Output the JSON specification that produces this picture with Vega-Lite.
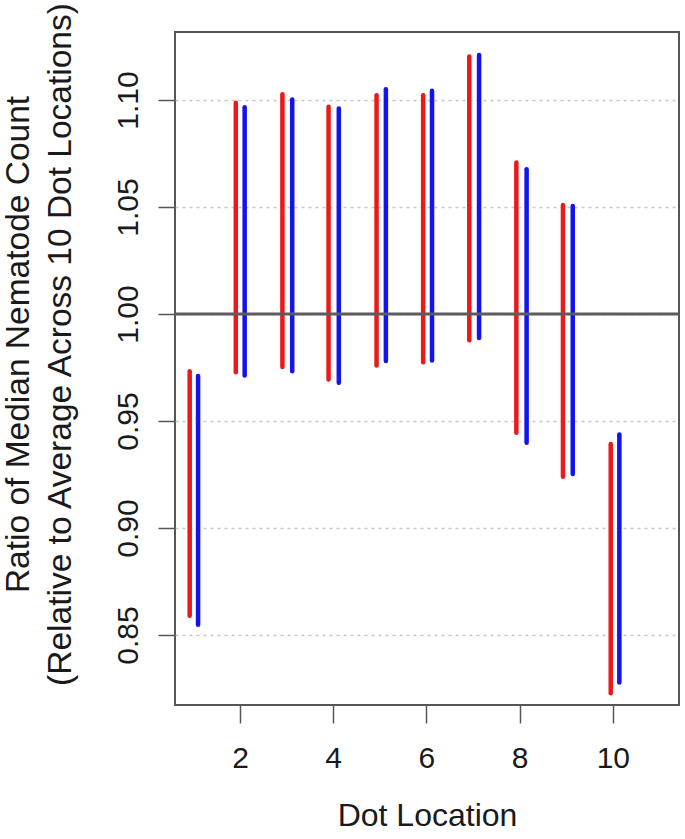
{
  "$schema": "https://vega.github.io/schema/vega-lite/v6.json",
  "width": 504,
  "height": 673,
  "autosize": "none",
  "padding": {"left": 175, "top": 32, "right": 6, "bottom": 134},
  "background": "white",
  "config": {
    "view": {"stroke": "#555555", "strokeWidth": 2},
    "font": "Liberation Sans",
    "axis": {"labelFont": "Liberation Sans", "titleFont": "Liberation Sans", "labelColor": "#1a1a1a", "titleColor": "#1a1a1a", "titleFontWeight": "normal", "domain": false, "tickColor": "#555555", "tickWidth": 1.5}
  },
  "layer": [
    {
      "data": {
        "values": [
          {"location": 1, "group": "red", "x": 0.92, "lo": 0.859, "hi": 0.9733},
          {"location": 1, "group": "blue", "x": 1.10, "lo": 0.8548, "hi": 0.971},
          {"location": 2, "group": "red", "x": 1.91, "lo": 0.9728, "hi": 1.0987},
          {"location": 2, "group": "blue", "x": 2.10, "lo": 0.9713, "hi": 1.0966},
          {"location": 3, "group": "red", "x": 2.91, "lo": 0.9752, "hi": 1.1027},
          {"location": 3, "group": "blue", "x": 3.12, "lo": 0.9733, "hi": 1.1003},
          {"location": 4, "group": "red", "x": 3.90, "lo": 0.9694, "hi": 1.0969},
          {"location": 4, "group": "blue", "x": 4.12, "lo": 0.9679, "hi": 1.0961},
          {"location": 5, "group": "red", "x": 4.93, "lo": 0.976, "hi": 1.1023},
          {"location": 5, "group": "blue", "x": 5.13, "lo": 0.978, "hi": 1.105},
          {"location": 6, "group": "red", "x": 5.93, "lo": 0.9775, "hi": 1.1023},
          {"location": 6, "group": "blue", "x": 6.12, "lo": 0.9783, "hi": 1.1044},
          {"location": 7, "group": "red", "x": 6.92, "lo": 0.9877, "hi": 1.1203},
          {"location": 7, "group": "blue", "x": 7.13, "lo": 0.9888, "hi": 1.1211},
          {"location": 8, "group": "red", "x": 7.93, "lo": 0.9445, "hi": 1.0708},
          {"location": 8, "group": "blue", "x": 8.15, "lo": 0.9398, "hi": 1.0677},
          {"location": 9, "group": "red", "x": 8.93, "lo": 0.924, "hi": 1.0509},
          {"location": 9, "group": "blue", "x": 9.14, "lo": 0.9253, "hi": 1.0505},
          {"location": 10, "group": "red", "x": 9.955, "lo": 0.8228, "hi": 0.9393},
          {"location": 10, "group": "blue", "x": 10.14, "lo": 0.8278, "hi": 0.9437}
        ]
      },
      "mark": {"type": "rule", "strokeWidth": 4.5, "strokeCap": "round"},
      "encoding": {
        "x": {
          "field": "x", "type": "quantitative",
          "scale": {"domain": [0.605, 11.42], "nice": false, "zero": false},
          "axis": {
            "values": [2, 4, 6, 8, 10], "grid": false, "tickSize": 18,
            "labelFontSize": 30, "labelBaseline": "alphabetic", "labelPadding": 44,
            "title": "Dot Location", "titleFontSize": 32, "titleBaseline": "alphabetic",
            "titleX": 252, "titleY": 120, "titleAlign": "center"
          }
        },
        "y": {
          "field": "lo", "type": "quantitative",
          "scale": {"domain": [0.8173, 1.1318], "nice": false, "zero": false},
          "axis": {
            "values": [0.85, 0.9, 0.95, 1.0, 1.05, 1.1], "format": ".2f",
            "grid": true, "gridDash": [3, 4], "gridColor": "#c8c8c8", "gridWidth": 1.5,
            "tickSize": 17, "labelFontSize": 30, "labelAngle": 270, "labelAlign": "center",
            "labelBaseline": "alphabetic", "labelPadding": 21,
            "title": ["Ratio of Median Nematode Count", "(Relative to Average Across 10 Dot Locations)"],
            "titleFontSize": 33.5, "titleAngle": 270, "titleBaseline": "alphabetic",
            "titleAlign": "center", "titleLineHeight": 42, "titleX": -147, "titleY": 312
          }
        },
        "y2": {"field": "hi"},
        "color": {
          "field": "group", "type": "nominal",
          "scale": {"domain": ["red", "blue"], "range": ["#ea1a1a", "#1212f2"]},
          "legend": null
        }
      }
    },
    {
      "data": {"values": [{"lo": 1.0}]},
      "mark": {"type": "rule", "color": "#5c5c5c", "strokeWidth": 3},
      "encoding": {
        "y": {"field": "lo", "type": "quantitative"}
      }
    }
  ]
}
